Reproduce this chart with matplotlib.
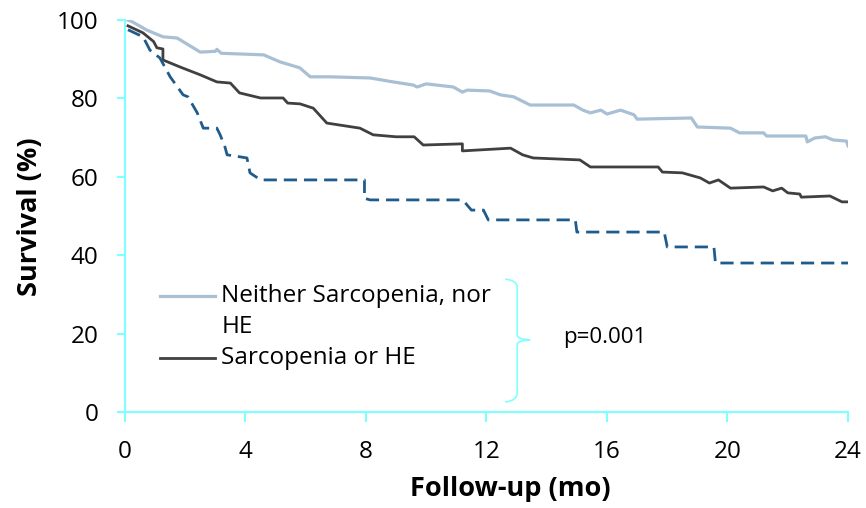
import matplotlib
matplotlib.use("Agg")
import matplotlib.pyplot as plt
from matplotlib.path import Path
from matplotlib.patches import PathPatch
from matplotlib.lines import Line2D

# ===========================
# Data
# ===========================

neither_t = [0.1, 0.25, 0.73, 1.26, 1.73, 2.5, 3.0, 3.05, 3.2, 4.6, 5.15, 5.8,
             6.15, 6.8, 8.14, 8.9, 9.57, 9.7, 10.0, 10.9, 11.2, 11.36, 12.1,
             12.46, 12.9, 13.45, 14.9, 15.2, 15.45, 15.8, 16.0, 16.45, 16.9,
             17.0, 18.8, 19.0, 20.1, 20.4, 21.2, 21.3, 22.6, 22.65, 22.9,
             23.25, 23.5, 23.95, 24.0]
neither_s = [100, 99.5, 97.4, 95.7, 95.4, 91.8, 92.0, 92.5, 91.5, 91.1, 89.3, 87.8,
             85.5, 85.5, 85.2, 84.2, 83.4, 82.9, 83.7, 82.9, 81.6, 82.1, 81.9,
             80.9, 80.4, 78.3, 78.3, 77.0, 76.3, 77.0, 76.0, 77.0, 75.8,
             74.7, 75.0, 72.7, 72.4, 71.2, 71.2, 70.4, 70.4, 68.9, 69.9,
             70.2, 69.4, 69.1, 67.9]

either_t = [0.1, 0.6, 0.95, 1.06, 1.26, 1.26, 1.83, 2.5, 3.05, 3.5, 3.8, 4.5,
            5.25, 5.4, 5.81, 6.25, 6.7, 7.8, 8.24, 9.0, 9.6, 9.9, 11.2, 11.2,
            12.8, 13.2, 13.55, 15.1, 15.45, 17.7, 17.84, 18.5, 19.1, 19.4,
            19.7, 20.1, 21.2, 21.5, 21.8, 22.0, 22.4, 22.45, 23.4, 23.8, 24.0]
either_s = [98.5, 96.7, 94.5, 92.9, 92.6, 89.8, 88.0, 86.0, 84.2, 83.9, 81.4, 80.1,
            80.1, 78.8, 78.6, 77.5, 73.7, 72.4, 70.7, 70.2, 70.2, 68.1, 68.4, 66.6,
            67.3, 65.6, 64.8, 64.3, 62.5, 62.5, 61.2, 61.0, 59.7, 58.4,
            59.2, 57.1, 57.4, 56.4, 57.1, 55.9, 55.6, 54.8, 55.1, 53.6, 53.6]

both_t = [0.1, 0.6, 0.83, 1.16, 1.5, 1.93, 2.09, 2.4, 2.6, 3.05, 3.16, 3.32,
          3.39, 4.05, 4.15, 4.5, 7.95, 7.95, 8.14, 11.2, 11.3, 11.5, 11.9,
          12.06, 14.95, 15.0, 17.9, 18.0, 19.55, 19.6, 24.0]
both_s = [97.5, 95.7, 92.3, 90.3, 85.5, 80.9, 80.4, 76.3, 72.4, 72.4, 70.7, 67.6,
          65.6, 64.8, 61.0, 59.2, 59.2, 54.5, 54.1, 54.1, 53.3, 51.5, 51.5,
          49.0, 49.0, 45.9, 45.9, 42.1, 42.1, 38.0, 38.0]

X_TICKS = [0, 4, 8, 12, 16, 20, 24]
Y_TICKS = [0, 20, 40, 60, 80, 100]

LEGEND_LABELS = ["Neither Sarcopenia, nor\nHE", "Sarcopenia or HE"]
P_TEXT = "p=0.001"

# ===========================
# Style
# ===========================

FONT = ["Open Sans", "DejaVu Sans"]
plt.rcParams["font.family"] = FONT
plt.rcParams["lines.scale_dashes"] = False

AXIS_COLOR = "#80FFFF"
C_NEITHER = "#A9BFD4"
C_EITHER = "#404040"
C_BOTH = "#1F5C8C"

fig = plt.figure(figsize=(8.66, 5.08), dpi=100)
ax = fig.add_axes([0.1443, 0.189, 0.8349, 0.7717])

ax.plot(neither_t, neither_s, color=C_NEITHER, lw=2.3)
ax.plot(either_t, either_s, color=C_EITHER, lw=2.0)
ax.plot(both_t, both_s, color=C_BOTH, lw=2.0, dashes=(9.5, 5))

ax.set_xlim(0, 24)
ax.set_ylim(0, 100)
ax.set_xticks(X_TICKS)
ax.set_yticks(Y_TICKS)

for side in ["top", "right"]:
    ax.spines[side].set_visible(False)
for side in ["left", "bottom"]:
    ax.spines[side].set_color(AXIS_COLOR)
    ax.spines[side].set_linewidth(1.5)

ax.tick_params(axis="y", direction="out", length=6, width=1.5,
               color=AXIS_COLOR, labelsize=17.5, pad=13)
ax.tick_params(axis="x", direction="out", length=7, width=1.5,
               color=AXIS_COLOR, labelsize=17.5, pad=13)

fig.text(0.035, 0.573, "Survival (%)", rotation=90, ha="center", va="center",
         fontsize=19.5, fontweight="bold")
fig.text(0.589, 0.037, "Follow-up (mo)", ha="center", va="center",
         fontsize=19.5, fontweight="bold")

# ===========================
# Legend (two entries, drawn by hand)
# ===========================

tr = ax.transAxes
ax.add_line(Line2D([0.048, 0.124], [0.297, 0.297], transform=tr,
                   color=C_NEITHER, lw=2.3))
ax.add_line(Line2D([0.048, 0.124], [0.138, 0.138], transform=tr,
                   color=C_EITHER, lw=2.0))
ax.text(0.133, 0.297, LEGEND_LABELS[0].split("\n")[0], transform=tr,
        fontsize=17.5, va="center", ha="left")
ax.text(0.133, 0.218, LEGEND_LABELS[0].split("\n")[1], transform=tr,
        fontsize=17.5, va="center", ha="left")
ax.text(0.133, 0.138, LEGEND_LABELS[1], transform=tr,
        fontsize=17.5, va="center", ha="left")

# brace and p value
verts = [(12.62, 33.9), (13.02, 33.5), (13.02, 31.9),
         (13.02, 19.6),
         (13.02, 18.6), (13.45, 18.4),
         (13.02, 18.2), (13.02, 17.2),
         (13.02, 4.85),
         (13.02, 2.9), (12.62, 2.55)]
codes = [Path.MOVETO, Path.CURVE3, Path.CURVE3,
         Path.LINETO,
         Path.CURVE3, Path.CURVE3,
         Path.CURVE3, Path.CURVE3,
         Path.LINETO,
         Path.CURVE3, Path.CURVE3]
ax.add_patch(PathPatch(Path(verts, codes), fill=False, edgecolor=AXIS_COLOR,
                       lw=1.2, clip_on=False))
ax.text(14.55, 19.1, P_TEXT, fontsize=16, va="center", ha="left")

fig.savefig("out.png", dpi=100)
